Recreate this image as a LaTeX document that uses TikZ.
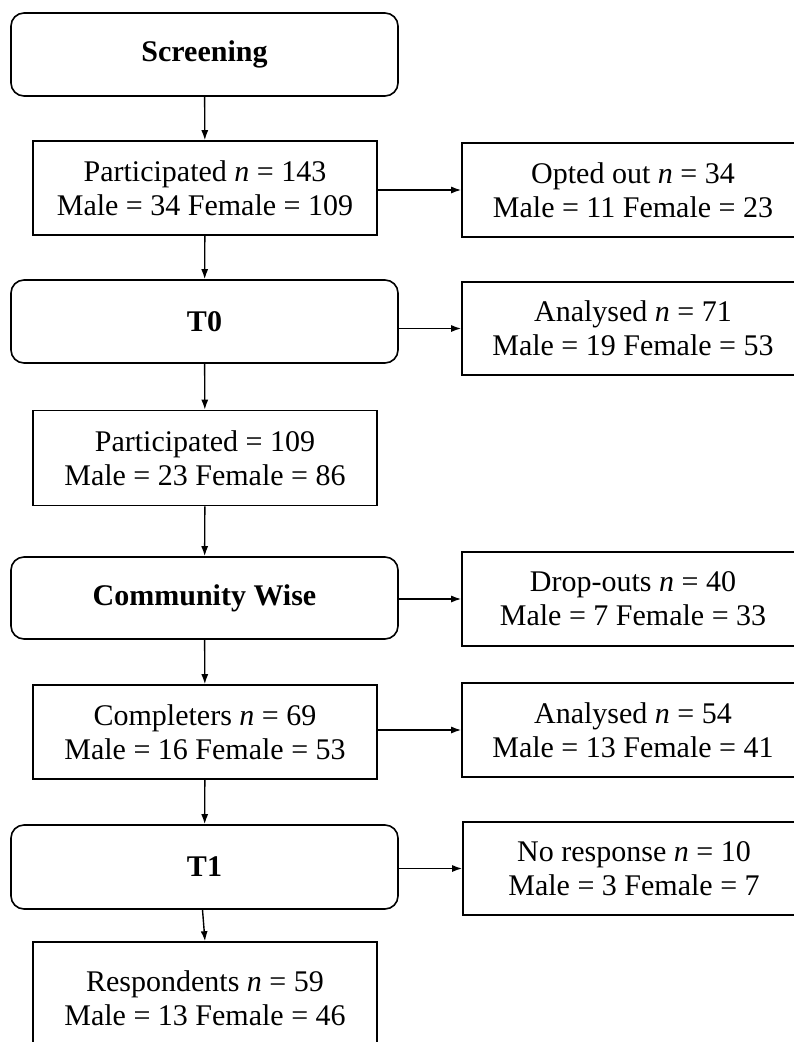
\documentclass[tikz,border=0pt]{standalone}
\usepackage{fontspec}
\setmainfont{Liberation Serif}
\usetikzlibrary{arrows.meta}
\tikzset{
  stage/.style={draw, line width=1.6pt, rounded corners=13pt, minimum width=387pt, font=\fontsize{30}{34}\selectfont\bfseries, align=center, inner sep=0pt},
  countbox/.style={draw, line width=1.6pt, minimum width=344pt, font=\fontsize{30}{34}\selectfont, align=center, inner sep=0pt},
  sidebox/.style={draw, line width=1.6pt, minimum width=342pt, font=\fontsize{30}{34}\selectfont, align=center, inner sep=0pt},
  flow/.style={line width=1.4pt, -{Latex[length=10pt,width=7pt]}}
}
\begin{document}
\begin{tikzpicture}[x=1pt,y=-1pt]
\useasboundingbox (0,0) rectangle (794,1042);
\clip (0,0) rectangle (794,1042);
\fill[white] (0,0) rectangle (794,1042);
% left column
\node[stage, minimum height=83pt] (scr) at (204.5,54.5) {Screening};
\node[countbox, minimum height=94pt] (p143) at (205,188) {Participated \textit{n} = 143\\Male = 34 Female = 109};
\node[stage, minimum height=83pt] (t0) at (204.5,321.5) {T0};
\node[countbox, minimum height=95pt] (p109) at (205,458) {Participated = 109\\Male = 23 Female = 86};
\node[stage, minimum height=82pt] (cw) at (204.5,598) {Community Wise};
\node[countbox, minimum height=94pt] (comp) at (205,732) {Completers \textit{n} = 69\\Male = 16 Female = 53};
\node[stage, minimum height=84pt] (t1) at (204.5,867) {T1};
\node[countbox, minimum height=112pt] (resp) at (205,998) {Respondents \textit{n} = 59\\Male = 13 Female = 46};
% right column
\node[sidebox, minimum height=94pt] (opt) at (633,190) {Opted out \textit{n} = 34\\Male = 11 Female = 23};
\node[sidebox, minimum height=93pt] (a71) at (633,328.5) {Analysed \textit{n} = 71\\Male = 19 Female = 53};
\node[sidebox, minimum height=94pt] (drop) at (633,599) {Drop-outs \textit{n} = 40\\Male = 7 Female = 33};
\node[sidebox, minimum height=94pt] (a54) at (633,730) {Analysed \textit{n} = 54\\Male = 13 Female = 41};
\node[sidebox, minimum height=93pt] (nr) at (634,868.5) {No response \textit{n} = 10\\Male = 3 Female = 7};
% vertical connectors
\draw[flow] (scr) -- (p143);
\draw[flow] (p143) -- (t0);
\draw[flow] (t0) -- (p109);
\draw[flow] (p109) -- (cw);
\draw[flow] (cw) -- (comp);
\draw[flow] (comp) -- (t1);
\draw[flow] ([xshift=-2pt]t1.south) -- (resp.north);
% horizontal connectors
\draw[flow] (p143.east |- opt.west) -- (opt.west);
\draw[flow] (t0.east |- a71.west) -- (a71.west);
\draw[flow] (cw.east |- drop.west) -- (drop.west);
\draw[flow] (comp.east |- a54.west) -- (a54.west);
\draw[flow] (t1.east |- nr.west) -- (nr.west);
\end{tikzpicture}
\end{document}
